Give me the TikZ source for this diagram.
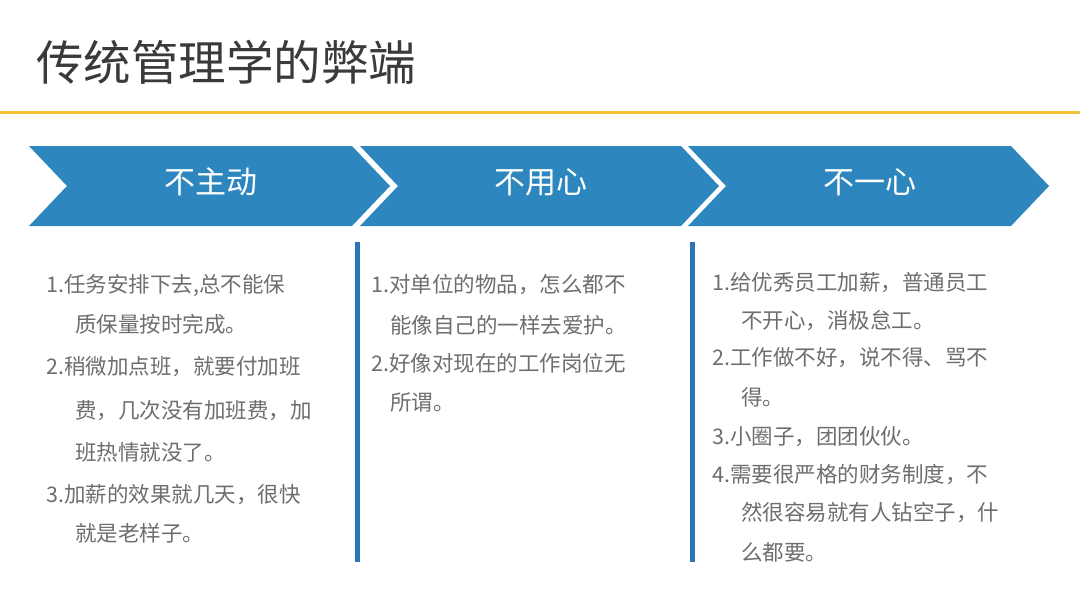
\documentclass[tikz,border=0pt]{standalone}
\usepackage{fontspec}
\newfontfamily\cjk{Noto Sans CJK SC}
\definecolor{chevblue}{RGB}{46,134,190}
\definecolor{barblue}{RGB}{46,117,182}
\definecolor{ruleyellow}{RGB}{242,194,50}
\definecolor{titlegray}{RGB}{58,58,58}
\definecolor{bodygray}{RGB}{110,110,110}
\tikzset{
  titletext/.style={anchor=west,inner sep=0pt,text=titlegray,font=\cjk\fontsize{47.5}{52}\selectfont},
  chevlabel/.style={inner sep=0pt,text=white,font=\cjk\fontsize{31}{34}\selectfont},
  bodytext/.style={anchor=west,inner sep=0pt,text=bodygray,font=\cjk\fontsize{21.5}{25}\selectfont},
  chevron/.style={fill=chevblue},
  colbar/.style={draw=barblue,line width=5pt},
  yellowrule/.style={draw=ruleyellow,line width=3pt}
}
\begin{document}
\begin{tikzpicture}[x=1pt,y=-1pt]
\useasboundingbox (0,0) rectangle (1080,608);
\fill[white] (0,0) rectangle (1080,608);
% title
\node[titletext] (title) at (36,62) {传统管理学的弊端};
\coordinate (ruleL) at (0,112);
\coordinate (ruleR) at (1080,112);
\draw[yellowrule] (ruleL) -- (ruleR);
% chevrons
\fill[chevron] (29,146) -- (352,146) -- (390,186) -- (352,226) -- (29,226) -- (67,186) -- cycle;
\fill[chevron] (360,146) -- (681,146) -- (719,186) -- (681,226) -- (360,226) -- (398,186) -- cycle;
\fill[chevron] (688,146) -- (1011,146) -- (1049,186) -- (1011,226) -- (688,226) -- (726,186) -- cycle;
\node[chevlabel] (lab1) at (211,182) {不主动};
\node[chevlabel] (lab2) at (541,182) {不用心};
\node[chevlabel] (lab3) at (870,182) {不一心};
% column bars
\coordinate (b1t) at (357,242); \coordinate (b1b) at (357,562);
\coordinate (b2t) at (692,242); \coordinate (b2b) at (692,562);
\draw[colbar] (b1t) -- (b1b);
\draw[colbar] (b2t) -- (b2b);
% column 1
\node[bodytext] (c1a) at (46,285) {1.任务安排下去,总不能保};
\node[bodytext] (c1b) at (75,324) {质保量按时完成。};
\node[bodytext] (c1c) at (46,367) {2.稍微加点班，就要付加班};
\node[bodytext] (c1d) at (75,411) {费，几次没有加班费，加};
\node[bodytext] (c1e) at (75,452) {班热情就没了。};
\node[bodytext] (c1f) at (46,495) {3.加薪的效果就几天，很快};
\node[bodytext] (c1g) at (75,533) {就是老样子。};
% column 2
\node[bodytext] (c2a) at (371,285) {1.对单位的物品，怎么都不};
\node[bodytext] (c2b) at (390,325) {能像自己的一样去爱护。};
\node[bodytext] (c2c) at (371,363) {2.好像对现在的工作岗位无};
\node[bodytext] (c2d) at (390,402) {所谓。};
% column 3
\node[bodytext] (c3a) at (712,283) {1.给优秀员工加薪，普通员工};
\node[bodytext] (c3b) at (741,321) {不开心，消极怠工。};
\node[bodytext] (c3c) at (712,358) {2.工作做不好，说不得、骂不};
\node[bodytext] (c3d) at (741,397) {得。};
\node[bodytext] (c3e) at (712,437) {3.小圈子，团团伙伙。};
\node[bodytext] (c3f) at (712,475) {4.需要很严格的财务制度，不};
\node[bodytext] (c3g) at (741,513) {然很容易就有人钻空子，什};
\node[bodytext] (c3h) at (741,552) {么都要。};
\end{tikzpicture}
\end{document}
